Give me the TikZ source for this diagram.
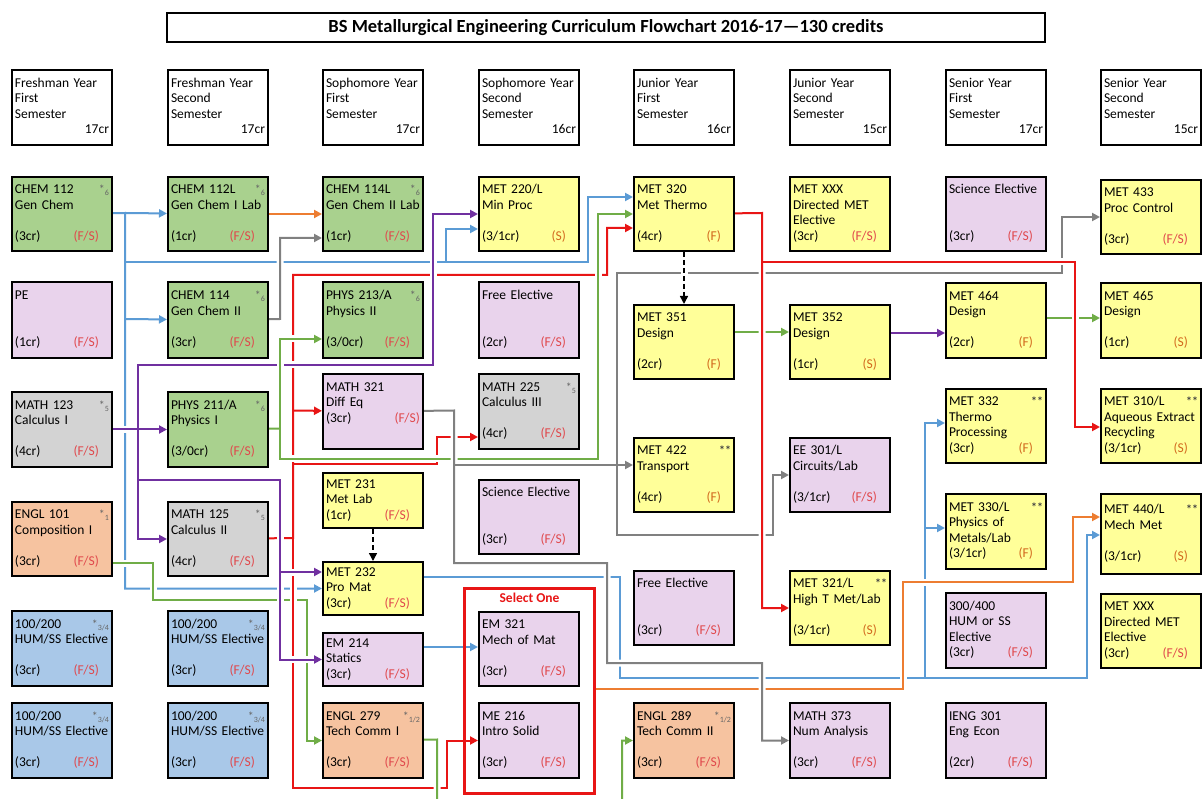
\documentclass[tikz,border=0pt]{standalone}
\usepackage{fontspec}
\setmainfont{Carlito}
\usetikzlibrary{positioning,arrows.meta,backgrounds}

\definecolor{cgreen}{HTML}{A9D18E}
\definecolor{cyellow}{HTML}{FFFF99}
\definecolor{cpink}{HTML}{E9D3EC}
\definecolor{cgrey}{HTML}{D3D3D3}
\definecolor{cpeach}{HTML}{F6C3A0}
\definecolor{cblue}{HTML}{A9C8E8}
\definecolor{lblue}{HTML}{5B9BD5}
\definecolor{lorange}{HTML}{ED7D31}
\definecolor{lgrey}{HTML}{808080}
\definecolor{lgreen}{HTML}{70AD47}
\definecolor{lred}{HTML}{E81515}
\definecolor{lpurple}{HTML}{7030A0}
\definecolor{semred}{HTML}{E0484C}
\definecolor{semorange}{HTML}{D2691E}

\newcommand{\st}[1]{\hfill{\color{black!60}\fontsize{12}{12}\selectfont*\raisebox{-2pt}{\fontsize{8}{8}\selectfont#1}}}
\newcommand{\dst}{\hfill{\color{black!75}\fontsize{12}{12}\selectfont\bfseries**}\hspace*{2pt}}
\newcommand{\fs}[1]{\hfill{\color{semred}(#1)}\hspace*{10pt}}
\newcommand{\fo}[1]{\hfill{\color{semorange}(#1)}\hspace*{10pt}}
\newcommand{\blank}{\mbox{}}

\begin{document}
\begin{tikzpicture}[x=1pt, y=-1pt,
    course/.style={draw=black, line width=2pt, fill=#1, anchor=north west,
      minimum width=100pt, minimum height=74pt, text width=94pt,
      inner xsep=3pt, inner ysep=0pt, align=left,
      font=\fontsize{13.5}{15.5}\selectfont,
      execute at begin node=\strut, execute at end node=\strut},
    course/.default=white,
    title/.style={draw=black, line width=1.5pt, minimum width=878pt,
      minimum height=29pt, font=\bfseries\fontsize{18.5}{21}\selectfont},
    wire/.style={draw=#1, line width=2pt, -{Triangle[length=8pt,width=8pt]},
      preaction={draw=white, line width=7pt, arrows=-, shorten <=4pt}},
    dwire/.style={draw=black, line width=1.5pt, dash pattern=on 5pt off 3pt,
      -{Triangle[length=8pt,width=8pt]},
      preaction={draw=white, line width=7pt, arrows=-, solid}},
  ]
  \useasboundingbox (0,0) rectangle (1203,799);

  %Nodes
  \node[title] (title) at (606,27.5) {BS Metallurgical Engineering Curriculum Flowchart 2016-17—130 credits};

  \node[course, minimum height=75pt] (fy1) at (11,69)   {Freshman Year\\First\\Semester\\\hfill 17cr};
  \node[course, minimum height=75pt] (fy2) at (167,69)  {Freshman Year\\Second\\Semester\\\hfill 17cr};
  \node[course, minimum height=75pt] (so1) at (322,69)  {Sophomore Year\\First\\Semester\\\hfill 17cr};
  \node[course, minimum height=75pt] (so2) at (478,69)  {Sophomore Year\\Second\\Semester\\\hfill 16cr};
  \node[course, minimum height=75pt] (ju1) at (633,69)  {Junior Year\\First\\Semester\\\hfill 16cr};
  \node[course, minimum height=75pt] (ju2) at (789,69)  {Junior Year\\Second\\Semester\\\hfill 15cr};
  \node[course, minimum height=75pt] (se1) at (945,69)  {Senior Year\\First\\Semester\\\hfill 17cr};
  \node[course, minimum height=75pt] (se2) at (1100,69) {Senior Year\\Second\\Semester\\\hfill 15cr};

  % freshman 1
  \node[course=cgreen] (chem112) at (11,176) {CHEM 112\st{6}\\Gen Chem\\\blank\\(3cr)\fs{F/S}};
  \node[course=cpink, minimum height=76pt] (pe) at (11,281) {PE\\\blank\\\blank\\(1cr)\fs{F/S}};
  \node[course=cgrey, minimum height=75pt] (math123) at (11,391) {MATH 123\st{5}\\Calculus I\\\blank\\(4cr)\fs{F/S}};
  \node[course=cpeach] (engl101) at (11,501) {ENGL 101\st{1}\\Composition I\\\blank\\(3cr)\fs{F/S}};
  \node[course=cblue, minimum height=75pt] (hum1) at (11,610) {100/200\st{3/4}\\HUM/SS Elective\\\blank\\(3cr)\fs{F/S}};
  \node[course=cblue, minimum height=75pt] (hum2) at (11,702) {100/200\st{3/4}\\HUM/SS Elective\\\blank\\(3cr)\fs{F/S}};

  % freshman 2
  \node[course=cgreen] (chem112l) at (167,176) {CHEM 112L\st{6}\\Gen Chem I Lab\\\blank\\(1cr)\fs{F/S}};
  \node[course=cgreen, minimum height=76pt] (chem114) at (167,281) {CHEM 114\st{6}\\Gen Chem II\\\blank\\(3cr)\fs{F/S}};
  \node[course=cgreen, minimum height=75pt] (phys211) at (167,391) {PHYS 211/A\st{6}\\Physics I\\\blank\\(3/0cr)\fs{F/S}};
  \node[course=cgrey] (math125) at (167,501) {MATH 125\st{5}\\Calculus II\\\blank\\(4cr)\fs{F/S}};
  \node[course=cblue, minimum height=75pt] (hum3) at (167,610) {100/200\st{3/4}\\HUM/SS Elective\\\blank\\(3cr)\fs{F/S}};
  \node[course=cblue, minimum height=75pt] (hum4) at (167,702) {100/200\st{3/4}\\HUM/SS Elective\\\blank\\(3cr)\fs{F/S}};

  % sophomore 1
  \node[course=cgreen] (chem114l) at (322,176) {CHEM 114L\st{6}\\Gen Chem II Lab\\\blank\\(1cr)\fs{F/S}};
  \node[course=cgreen, minimum height=76pt] (phys213) at (322,281) {PHYS 213/A\st{6}\\Physics II\\\blank\\(3/0cr)\fs{F/S}};
  \node[course=cpink, minimum height=75pt] (math321) at (322,373) {MATH 321\\Diff Eq\\(3cr)\fs{F/S}\\\blank};
  \node[course=cyellow, minimum height=55pt] (met231) at (322,472) {MET 231\\Met Lab\\(1cr)\fs{F/S}};
  \node[course=cyellow, minimum height=53pt] (met232) at (322,561) {MET 232\\Pro Mat\\(3cr)\fs{F/S}};
  \node[course=cpink, minimum height=53pt] (em214) at (322,632) {EM 214\\Statics\\(3cr)\fs{F/S}};
  \node[course=cpeach, minimum height=75pt] (engl279) at (322,702) {ENGL 279\st{1/2}\\Tech Comm I\\\blank\\(3cr)\fs{F/S}};

  % sophomore 2
  \node[course=cyellow] (met220) at (478,176) {MET 220/L\\Min Proc\\\blank\\(3/1cr)\fo{S}};
  \node[course=cpink, minimum height=76pt] (free1) at (478,281) {Free Elective\\\blank\\\blank\\(2cr)\fs{F/S}};
  \node[course=cgrey, minimum height=75pt] (math225) at (478,373) {MATH 225\st{5}\\Calculus III\\\blank\\(4cr)\fs{F/S}};
  \node[course=cpink] (sci1) at (478,479) {Science Elective\\\blank\\\blank\\(3cr)\fs{F/S}};
  \node[course=cpink] (em321) at (478,611) {EM 321\\Mech of Mat\\\blank\\(3cr)\fs{F/S}};
  \node[course=cpink, minimum height=75pt] (me216) at (478,702) {ME 216\\Intro Solid\\\blank\\(3cr)\fs{F/S}};
  \node[draw=lred, line width=3pt, anchor=north west, minimum width=130pt, minimum height=205pt,
    label={[text=lred, font=\bfseries\fontsize{13.5}{15}\selectfont, anchor=north, yshift=-2pt]north:Select One}]
    (select) at (463,587) {};

  % junior 1
  \node[course=cyellow] (met320) at (633,176) {MET 320\\Met Thermo\\\blank\\(4cr)\fo{F}};
  \node[course=cyellow] (met351) at (633,304) {MET 351\\Design\\\blank\\(2cr)\fo{F}};
  \node[course=cyellow] (met422) at (633,437) {MET 422\dst\\Transport\\\blank\\(4cr)\fo{F}};
  \node[course=cpink] (free2) at (633,570) {Free Elective\\\blank\\\blank\\(3cr)\fs{F/S}};
  \node[course=cpeach, minimum height=75pt] (engl289) at (633,702) {ENGL 289\st{1/2}\\Tech Comm II\\\blank\\(3cr)\fs{F/S}};

  % junior 2
  \node[course=cyellow] (metxxx1) at (789,176) {MET XXX\\Directed MET\\Elective\\(3cr)\fs{F/S}};
  \node[course=cyellow] (met352) at (789,304) {MET 352\\Design\\\blank\\(1cr)\fo{S}};
  \node[course=cpink] (ee301) at (789,437) {EE 301/L\\Circuits/Lab\\\blank\\(3/1cr)\fs{F/S}};
  \node[course=cyellow] (met321) at (789,570) {MET 321/L\dst\\High T Met/Lab\\\blank\\(3/1cr)\fo{S}};
  \node[course=cpink, minimum height=75pt] (math373) at (789,702) {MATH 373\\Num Analysis\\\blank\\(3cr)\fs{F/S}};

  % senior 1
  \node[course=cpink] (sci2) at (945,176) {Science Elective\\\blank\\\blank\\(3cr)\fs{F/S}};
  \node[course=cyellow, minimum height=75pt] (met464) at (945,282) {MET 464\\Design\\\blank\\(2cr)\fo{F}};
  \node[course=cyellow] (met332) at (945,388) {MET 332\dst\\Thermo\\Processing\\(3cr)\fo{F}};
  \node[course=cyellow, minimum height=75pt] (met330) at (945,493) {MET 330/L\dst\\Physics of\\Metals/Lab\\(3/1cr)\fo{F}};
  \node[course=cpink, minimum height=75pt] (hum5) at (945,592) {300/400\\HUM or SS\\Elective\\(3cr)\fs{F/S}};
  \node[course=cpink, minimum height=75pt] (ieng301) at (945,702) {IENG 301\\Eng Econ\\\blank\\(2cr)\fs{F/S}};

  % senior 2
  \node[course=cyellow] (met433) at (1100,179) {MET 433\\Proc Control\\\blank\\(3cr)\fs{F/S}};
  \node[course=cyellow, minimum height=75pt] (met465) at (1100,282) {MET 465\\Design\\\blank\\(1cr)\fo{S}};
  \node[course=cyellow] (met310) at (1100,388) {MET 310/L\dst\\Aqueous Extract\\Recycling\\(3/1cr)\fo{S}};
  \node[course=cyellow, minimum height=80pt] (met440) at (1100,493) {MET 440/L\dst\\Mech Met\\\blank\\(3/1cr)\fo{S}};
  \node[course=cyellow] (metxxx2) at (1100,593) {MET XXX\\Directed MET\\Elective\\(3cr)\fs{F/S}};

  %Lines
  \begin{scope}[on background layer]
    \fill[white] (0,0) rectangle (1203,799);
    \clip (0,0) rectangle (1203,799);

    % CHEM 112
    \draw[wire=lblue] (chem112) -- (125,213) |- (met232);
    \draw[wire=lblue] (125,213) -- (chem112l);
    \draw[wire=lblue] (125,319) -- (chem114);
    \draw[wire=lblue] (125,262) -- (588,262) |- (met320.west |- 0,197);
    \draw[wire=lblue] (446,262) |- (met220.west |- 0,229);

    % ENGL 101
    \draw[wire=lgreen] (engl101.east |- 0,563) -- (153,563) |- (307,600) |- (engl279);

    % MATH 125
    \draw[wire=lred] (math125) -- (293,538) -- (293,275) -- (607,275) |- (met320.west |- 0,228);
    \draw[wire=lred] (293,410.5) -- (math321);
    \draw[wire=lred] (293,464) -- (437,464) |- (math225.west |- 0,437);
    \draw[wire=lred] (293,538) -- (293,788) -- (447,788) |- (me216);

    % MATH 123
    \draw[wire=lpurple] (math123) -- (phys211);
    \draw[wire=lpurple] (138,428.5) -- (138,365) -- (433,365) |- (met220);
    \draw[wire=lpurple] (138,428.5) |- (math125);
    \draw[wire=lpurple] (138,480) -- (280,480) |- (em214);
    \draw[wire=lpurple] (280,572) -- (met232.west |- 0,572);

    % PHYS 211
    \draw[wire=lgreen, -] (phys211) -- (280,428.5);
    \draw[wire=lgreen] (280,428.5) |- (phys213.west |- 0,339);
    \draw[wire=lgreen] (280,428.5) -- (280,459) -- (598,459) |- (met320);

    % CHEM 114, CHEM 112L
    \draw[wire=lgrey] (chem114) -- (280,319) |- (chem114l.west |- 0,238);
    \draw[wire=lorange] (chem112l) -- (chem114l);

    % MET 232, EM 214, select one
    \draw[wire=lblue] (met232.east |- 0,577) -- (620,577) -- (620,678) -- (1087,678) |- (met440.west |- 0,535);
    \draw[wire=lblue] (925,678) |- (met332.west |- 0,423);
    \draw[wire=lblue] (925,528) -- (met330.west |- 0,528);
    \draw[wire=lblue] (em214.east |- 0,647) -- (em321.west |- 0,647);
    \draw[wire=lorange] (select.east |- 0,689) -- (903,689) -- (903,582) -- (1073,582) |- (met440.west |- 0,517);

    % MATH 321
    \draw[wire=lgrey] (math321) -- (454,410.5) -- (454,563) -- (607,563) -- (607,663) -- (762,663) |- (math373);
    \draw[wire=lgrey] (454,465) -- (met422.west |- 0,465);
    \draw[wire=lgrey] (617,465) -- (617,273) -- (1062,273) |- (met433);
    \draw[wire=lgrey] (617,465) -- (617,535) -- (773,535) |- (ee301);

    % design sequence
    \draw[wire=lgreen] (met351.east |- 0,332) -- (met352.west |- 0,332);
    \draw[wire=lpurple] (met352.east |- 0,333) -- (met464.west |- 0,333);
    \draw[wire=lgreen] (met464.east |- 0,318) -- (met465.west |- 0,318);

    % MET 320
    \draw[wire=lred] (met320) -- (762,213) |- (met321);
    \draw[wire=lred] (762,262) -- (1075,262) |- (met310.west |- 0,427);
    \draw[dwire] (met320) -- (met351);
    \draw[dwire] (met231) -- (met232);

    % ENGL 279
    \draw[wire=lgreen] (engl279) -- (437,739.5) -- (437,815) -- (622,815) |- (engl289);
  \end{scope}
\end{tikzpicture}
\end{document}
